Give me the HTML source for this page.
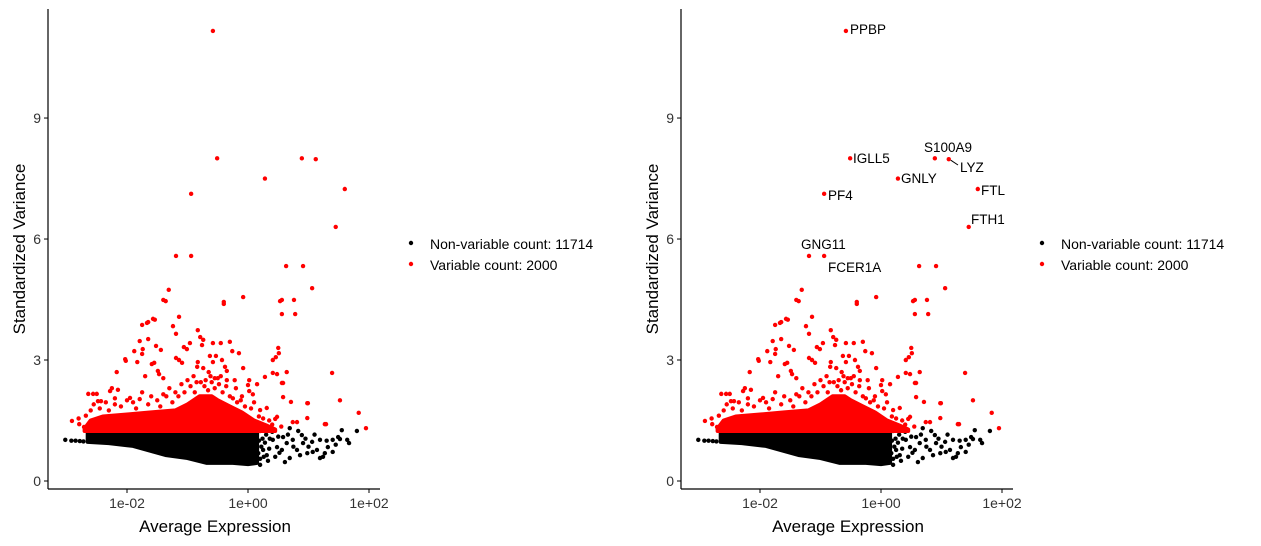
<!DOCTYPE html>
<html><head><meta charset="utf-8">
<style>
html,body{margin:0;padding:0;background:#fff;}
svg{display:block;font-family:"Liberation Sans",Arial,sans-serif;}
</style></head><body>
<svg id="chart" width="1261" height="546" viewBox="0 0 1261 546" xmlns="http://www.w3.org/2000/svg"></svg>
<script>
// data in (log10 average expression, standardized variance)
const xTickLogs = [-2, 0, 2];
const xTickLabels = ["1e-02", "1e+00", "1e+02"];
const yTicks = [0, 3, 6, 9];
const blackTop = [[-2.65,1.2],[-2.5,1.26],[-1.5,1.28],[-0.5,1.28],[0.0,1.28],[0.15,1.2]];
const blackBottom = [[0.15,0.45],[0,0.42],[-0.25,0.45],[-0.68,0.45],[-1.0,0.57],[-1.35,0.64],[-1.9,0.87],[-2.3,0.94],[-2.65,0.97]];
const redTop = [[-2.7,1.3],[-2.6,1.5],[-2.4,1.6],[-2.0,1.65],[-1.6,1.7],[-1.2,1.75],[-1.0,1.9],[-0.8,2.1],[-0.6,2.1],[-0.5,2.0],[-0.3,1.85],[-0.1,1.7],[0.1,1.5],[0.3,1.38],[0.45,1.28]];
const redBottomY = 1.24;
const blackPoints = [[-3.02,1.02],[-2.92,1.0],[-2.85,1.0],[-2.78,0.99],[-2.72,0.98],
[0.2,0.4],[0.17,0.69],[0.25,0.77],[0.31,0.64],[0.41,1.02],[0.48,0.84],[0.4,1.22],[0.58,1.09],[0.64,0.94],[0.56,0.77],
[0.69,1.31],[0.74,1.02],[0.81,0.77],[0.89,1.14],[0.91,0.94],[0.98,0.69],[1.06,0.97],[1.14,0.77],[1.19,1.02],[1.24,0.6],
[1.32,0.84],[1.4,1.02],[1.49,1.09],[1.55,1.26],[1.64,1.02],[1.67,0.94],[0.83,1.24],[0.69,0.57],[0.61,0.47],[0.86,0.64],
[1.07,0.72],[1.8,1.24],[0.31,1.34],[0.2,1.24],[1.19,0.57],[1.27,0.69],[1.4,0.72],[1.52,1.04],
[0.2,0.55],[0.22,0.85],[0.24,1.05],[0.28,0.95],[0.3,1.15],[0.33,0.5],[0.35,0.8],[0.18,1.0],[0.26,0.6],[0.36,1.05],
[0.45,0.6],[0.5,1.1],[0.52,0.7],[0.95,1.05],[1.0,0.85],[1.1,1.15],[1.3,1.0],[1.45,0.9],[0.75,0.85],[0.66,1.15]];
const redPoints = [[-0.58,11.16],[-0.51,8.0],[-0.94,7.12],[0.28,7.5],[0.89,8.0],[1.12,7.98],[1.6,7.24],[1.45,6.3],
[-1.19,5.58],[-0.94,5.58],[0.63,5.33],[0.91,5.33],[1.06,4.78],[-0.08,4.56],[-0.4,4.44],[0.56,4.49],[0.76,4.49],[0.78,4.14],
[-1.31,4.74],[-1.4,4.49],[-1.54,4.0],[-1.65,3.94],[-1.36,4.46],[-0.40,4.39],[0.53,4.46],[-1.14,4.07],[0.56,4.14],
[-1.57,4.02],[-1.67,3.92],[-1.75,3.87],[-1.79,3.47],[-1.65,3.52],[-1.24,3.84],[-1.19,3.65],[-0.83,3.74],[-0.79,3.57],
[-0.74,3.5],[-0.76,3.37],[-1.52,3.35],[-0.96,3.42],[-1.06,3.32],[-1.01,3.27],[-0.58,3.42],[-0.45,3.42],[-0.3,3.45],
[-0.26,3.22],[-0.15,3.17],[-1.88,3.22],[-1.74,3.27],[-1.75,3.15],[-1.44,3.25],[0.5,3.3],[0.51,3.17],[0.46,3.07],[0.41,3.0],
[-2.03,3.02],[-2.02,2.98],[-1.83,2.95],[-1.55,2.93],[-1.59,2.9],[-1.19,3.05],[-1.14,3.0],[-1.09,2.93],[-0.63,3.1],[-0.53,3.1],
[-0.43,3.0],[-0.58,2.95],[-0.83,2.95],[-0.84,2.83],[-0.74,2.8],[-0.38,2.83],[-0.35,2.73],[-0.08,2.8],[1.39,2.68],[0.64,2.7],
[-2.17,2.7],[-1.7,2.6],[-1.49,2.73],[-1.47,2.65],[-1.4,2.55],[0.41,2.68],[0.48,2.65],[0.56,2.43],[0.58,2.43],[0.28,2.58],
[0.15,2.4],[0.02,2.5],[0,2.38],[0.02,2.23],[0.58,2.08],[0.71,1.96],[0.98,1.93],[-2.15,2.26],[-2.25,2.3],[-2.28,2.23],
[-2.64,2.16],[-2.56,2.16],[-2.5,2.16],[-2.48,1.98],[-2.43,1.98],[-1.95,2.06],[-1.79,2.03],[0.98,1.56],[1.27,1.41],
[0.81,1.46],[0.74,1.46],[-2.91,1.49],[-2.79,1.41],[-2.71,1.34],[0.45,1.54],[0.48,1.59],[0.2,1.76],[0.31,1.81],
[1.52,2.0],[1.83,1.69],[1.95,1.31],[1.29,1.41],[0.99,1.93],
[-1.3,2.3],[-1.1,2.4],[-0.9,2.6],[-0.7,2.5],[-0.55,2.55],[-0.2,2.3],[-0.1,2.1],[-1.6,2.1],[-1.9,1.95],[-2.2,1.9],[-0.65,2.7],[-0.45,2.6],
[-2.6,1.75],[-2.55,1.9],[-2.45,1.8],[-2.35,1.95],[-2.3,1.75],[-2.1,1.85],[-2.0,2.0],[-1.85,1.8],[-1.75,2.2],[-1.65,1.9],
[-1.5,2.0],[-1.45,1.85],[-1.35,2.1],[-1.25,1.95],[-1.15,2.1],[-1.05,2.2],[-0.95,2.35],[-0.88,2.2],[-0.78,2.45],[-0.72,2.35],
[-0.66,2.25],[-0.6,2.45],[-0.55,2.3],[-0.48,2.4],[-0.42,2.2],[-0.36,2.35],[-0.3,2.1],[-0.25,2.05],[-0.18,1.95],[-0.12,2.0],
[-0.05,1.85],[0.05,1.8],[0.1,1.95],[0.18,1.6],[0.25,1.55],[0.35,1.5],[0.4,1.4],[0.55,1.35],[-2.8,1.55],[-2.68,1.62],
[-1.0,2.5],[-0.85,2.45],[-0.62,2.6],[-0.5,2.55],[-0.35,2.5],[-0.22,2.5],[0.08,2.15],[-1.2,2.2],[-1.4,2.15],[-2.2,2.05]];
const geneLabels = [["PPBP",-0.58,11.16,850,29],["IGLL5",-0.51,8.0,853,158],["S100A9",0.89,8.0,924,147],["LYZ",1.12,7.98,960,167],
["GNLY",0.28,7.5,901,178],["FTL",1.6,7.24,981,190],["PF4",-0.94,7.12,828,195],["FTH1",1.45,6.3,971,219],["GNG11",-1.19,5.58,801,244],["FCER1A",-0.94,5.58,828,267]];

const NS = "http://www.w3.org/2000/svg";
const svg = document.getElementById('chart');
function mk(tag, attrs, parent){const e=document.createElementNS(NS,tag);for(const k in attrs)e.setAttribute(k,attrs[k]);(parent||svg).appendChild(e);return e;}

function drawPanel(ox, legendX, withLabels, idx){
  const g = mk('g',{});
  
  
  const sx = l => ox + 248 + 60.5*l;
  const sy = v => 481 - 40.33*v;
  const axL = ox + 48, axR = ox + 380;
  const bp = blackTop.concat(blackBottom).map(p => sx(p[0]).toFixed(1)+','+sy(p[1]).toFixed(1)).join(' ');
  const bpoly = mk('polygon',{points:bp, fill:'#000', stroke:'#000', 'stroke-width':4, 'stroke-linejoin':'round'}, g);
  
  
  blackPoints.forEach(p => {
    const c = mk('circle',{cx:sx(p[0]),cy:sy(p[1]),r:2.2,fill:'#000'}, g);
    
    
  });
  const rp = redTop.map(p => sx(p[0]).toFixed(1)+','+sy(p[1]).toFixed(1));
  rp.push(sx(redTop[redTop.length-1][0]).toFixed(1)+','+sy(redBottomY).toFixed(1));
  rp.push(sx(redTop[0][0]).toFixed(1)+','+sy(redBottomY).toFixed(1));
  const rpoly = mk('polygon',{points:rp.join(' '), fill:'#f00', stroke:'#f00', 'stroke-width':4, 'stroke-linejoin':'round'}, g);
  
  
  redPoints.forEach(p => {
    const c = mk('circle',{cx:sx(p[0]),cy:sy(p[1]),r:2.2,fill:'#f00'}, g);
    
    
  });
  const ya = mk('line',{x1:axL,y1:9,x2:axL,y2:489,stroke:'#000','stroke-width':1.2}, g);
  
  
  const xa = mk('line',{x1:axL,y1:489,x2:axR,y2:489,stroke:'#000','stroke-width':1.2}, g);
  
  
  yTicks.forEach(v => {
    mk('line',{x1:axL-4,y1:sy(v),x2:axL,y2:sy(v),stroke:'#000'}, g);
    const t = mk('text',{x:axL-7,y:sy(v)+5,'text-anchor':'end','font-size':14,fill:'#333'}, g);
    t.textContent = v;
    
    
  });
  xTickLogs.forEach((l,i) => {
    mk('line',{x1:sx(l),y1:489,x2:sx(l),y2:493,stroke:'#000'}, g);
    const t = mk('text',{x:sx(l),y:508,'text-anchor':'middle','font-size':14,fill:'#333'}, g);
    t.textContent = xTickLabels[i];
    
    
  });
  const xt = mk('text',{x:ox+215,y:532,'text-anchor':'middle','font-size':17,fill:'#000'}, g);
  xt.textContent = 'Average Expression';
  
  
  const yt = mk('text',{x:0,y:0,'text-anchor':'middle','font-size':17,fill:'#000',transform:'translate('+(ox+25)+',249) rotate(-90)'}, g);
  yt.textContent = 'Standardized Variance';
  
  
  const lx = legendX;
  mk('circle',{cx:lx,cy:243,r:2.2,fill:'#000'}, g);
  mk('circle',{cx:lx,cy:264,r:2.2,fill:'#f00'}, g);
  const l1 = mk('text',{x:lx+19,y:249,'font-size':14,fill:'#000'}, g);
  l1.textContent = 'Non-variable count: 11714';
  
  
  const l2 = mk('text',{x:lx+19,y:270,'font-size':14,fill:'#000'}, g);
  l2.textContent = 'Variable count: 2000';
  
  
  if (withLabels) {
    geneLabels.forEach(gl => {
      const t = mk('text',{x:gl[3],y:gl[4]+5,'font-size':13.5,fill:'#000'}, g);
      t.textContent = gl[0];
      
      
      if (gl[0] === 'LYZ') mk('line',{x1:sx(gl[1])+2,y1:sy(gl[2])+1,x2:gl[3]-2,y2:gl[4]-2,stroke:'#000','stroke-width':1}, g);
    });
  }
}
drawPanel(0, 411, false, 'left');
drawPanel(633, 1042, true, 'right');
</script>
</body></html>
